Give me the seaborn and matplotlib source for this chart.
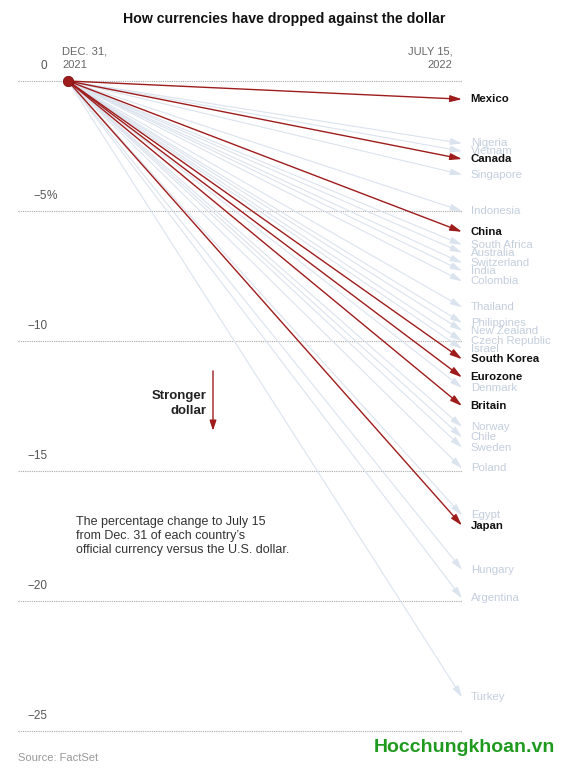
import matplotlib
matplotlib.use("Agg")
import matplotlib.pyplot as plt
import seaborn as sns
import pandas as pd

# currency change vs USD, Dec 31 2021 -> July 15 2022 (percent)
countries = ["Mexico", "Nigeria", "Vietnam", "Canada", "Singapore", "Indonesia",
             "China", "South Africa", "Australia", "Switzerland", "India", "Colombia",
             "Thailand", "Philippines", "New Zealand", "Czech Republic", "Israel",
             "South Korea", "Eurozone", "Denmark", "Britain", "Norway", "Chile",
             "Sweden", "Poland", "Egypt", "Japan", "Hungary", "Argentina", "Turkey"]
changes = [-0.7, -2.4, -2.7, -3.0, -3.6, -5.0,
           -5.8, -6.3, -6.6, -7.0, -7.3, -7.7,
           -8.7, -9.3, -9.6, -10.0, -10.3,
           -10.7, -11.4, -11.8, -12.5, -13.3, -13.7,
           -14.1, -14.9, -16.7, -17.1, -18.8, -19.9, -23.7]
highlighted = ["Mexico", "Canada", "China", "South Korea", "Eurozone", "Britain", "Japan"]

y_ticks = [0, -5, -10, -15, -20, -25]
y_tick_labels = ["0", "\u22125", "\u221210", "\u221215", "\u221220", "\u221225"]

df = pd.DataFrame({"country": countries, "change": changes})
df["hi"] = df["country"].isin(highlighted)

sns.set_style("white")
plt.rcParams["font.family"] = ["Liberation Sans", "DejaVu Sans"]

RED = "#9e1c1c"
LIGHT = "#dbe3ee"
LABEL_LIGHT = "#c3cedd"

fig = plt.figure(figsize=(5.69, 7.68), dpi=100)
ax = fig.add_axes([18 / 569, 23 / 768, 444 / 569, 705 / 768])
ax.set_xlim(-50 / 394, 1)
ax.set_ylim(-(745 - 81) / 26, (81 - 40) / 26)
ax.axis("off")

# dotted gridlines
for t in y_ticks:
    ax.axhline(t, color="#a8a8a8", lw=0.8, ls=(0, (1, 1)), zorder=0)

for t, lab in zip(y_ticks, y_tick_labels):
    ax.text(-0.053, t + 0.35, lab, ha="right", va="bottom", fontsize=8.5, color="#555555")
ax.text(-0.053, -5 + 0.35, "%", ha="left", va="bottom", fontsize=8.5, color="#555555")

ax.text(-0.015, 0.42, "DEC. 31,\n2021", ha="left", va="bottom", fontsize=8,
        color="#666666", linespacing=1.45)
ax.text(0.975, 0.42, "JULY 15,\n2022", ha="right", va="bottom", fontsize=8,
        color="#666666", linespacing=1.45, multialignment="right")

# arrows: light first, highlighted on top
for hi in [False, True]:
    sub = df[df["hi"] == hi]
    for _, r in sub.iterrows():
        col = RED if hi else LIGHT
        ax.annotate("", xy=(1, r["change"]), xytext=(0, 0),
                    arrowprops=dict(arrowstyle="-|>,head_length=0.7,head_width=0.2",
                                    color=col, lw=1.0 if hi else 0.8,
                                    shrinkA=0, shrinkB=0),
                    zorder=3 if hi else 2)
        ax.text(1.022, r["change"], r["country"], ha="left", va="center",
                fontsize=8.2, fontweight="bold" if hi else "normal",
                color="#111111" if hi else LABEL_LIGHT, clip_on=False, zorder=4)

sns.scatterplot(x=[0], y=[0], s=55, color=RED, edgecolor="#7a1010",
                linewidth=0.6, zorder=5, ax=ax, legend=False)

# stronger dollar note
ax.text(0.352, -12.4, "Stronger\ndollar", ha="right", va="center", fontsize=9.5,
        fontweight="bold", color="#222222", linespacing=1.3)
ax.annotate("", xy=(0.368, -13.45), xytext=(0.368, -11.15),
            arrowprops=dict(arrowstyle="-|>,head_length=0.6,head_width=0.2",
                            color=RED, lw=1.0, shrinkA=0, shrinkB=0))

ax.text(0.02, -16.75, "The percentage change to July 15\nfrom Dec. 31 of each country\u2019s\n"
        "official currency versus the U.S. dollar.", ha="left", va="top",
        fontsize=9, color="#333333", linespacing=1.2)

fig.text(0.5, 1 - 19 / 768, "How currencies have dropped against the dollar",
         ha="center", va="center", fontsize=10.2, fontweight="bold", color="#121212")
fig.text(18 / 569, 1 - 758 / 768, "Source: FactSet", ha="left", va="center",
         fontsize=8, color="#999999")
fig.text(555 / 569, 1 - 748 / 768, "Hocchungkhoan.vn", ha="right", va="center",
         fontsize=14, fontweight="bold", color="#1f9a1f")

fig.savefig("out.png", dpi=100)
